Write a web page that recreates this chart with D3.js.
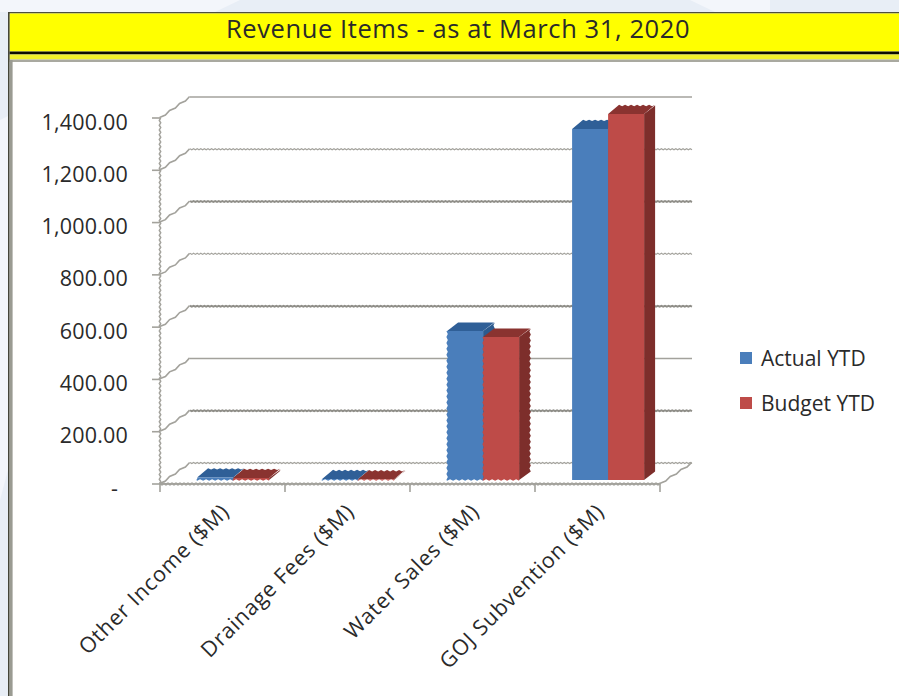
<!DOCTYPE html>
<html>
<head>
<meta charset="utf-8">
<script src="https://cdn.jsdelivr.net/npm/d3@7/dist/d3.min.js"></script>
<style>
  html, body { margin: 0; padding: 0; background: #fff; }
  svg { display: block; }
  text { font-family: "Open Sans", "Noto Sans", sans-serif; fill: #2a2a2a; }
</style>
</head>
<body>
<svg id="chart" width="899" height="696"></svg>
<script>
// Revenue items, year to date, in millions
const categories = ["Other Income ($M)", "Drainage Fees ($M)", "Water Sales ($M)", "GOJ Subvention ($M)"];
const seriesNames = ["Actual YTD", "Budget YTD"];
const actualYTD = [10, 4, 570, 1343];
const budgetYTD = [8, 3, 547, 1400];
const yTicks = [0, 200, 400, 600, 800, 1000, 1200, 1400];
const solidGridlines = [1400, 400];
const heavyGridlines = [1000, 600, 200];
const titleText = "Revenue Items - as at March 31, 2020";

const faceColors = {
  "Actual YTD": { front: "#4a7ebb", top: "#2f5f97", side: "#2c5a8e" },
  "Budget YTD": { front: "#be4b48", top: "#8a3330", side: "#7d2e2b" }
};

const svg = d3.select("#chart");

// Page backdrop and the framed panel
svg.append("rect").attr("width", 899).attr("height", 696).attr("fill", "#e8eef6");
[[[0, 0], [240, 0], [215, 12], [0, 12]],
 [[690, 0], [770, 0], [770, 12], [715, 12]],
 [[0, 120], [8, 116], [8, 470], [0, 500]]].forEach(p => {
  svg.append("polygon").attr("points", p.join(" ")).attr("fill", "#f3f6fb");
});
svg.append("rect").attr("x", 8).attr("y", 12).attr("width", 891).attr("height", 684).attr("fill", "#fff");
svg.append("rect").attr("x", 8).attr("y", 12).attr("width", 891).attr("height", 1.5).attr("fill", "#4d4f3d");
svg.append("rect").attr("x", 9.5).attr("y", 13.5).attr("width", 890).attr("height", 38).attr("fill", "#ffff00");
svg.append("rect").attr("x", 9.5).attr("y", 51.5).attr("width", 890).attr("height", 3).attr("fill", "#0b0b00");
svg.append("rect").attr("x", 9.5).attr("y", 54.5).attr("width", 890).attr("height", 5).attr("fill", "#f0f02a");
svg.append("rect").attr("x", 9.5).attr("y", 59.5).attr("width", 890).attr("height", 2.5).attr("fill", "#a9a9a0");
svg.append("rect").attr("x", 8).attr("y", 12).attr("width", 1.6).attr("height", 684).attr("fill", "#45463a");
svg.append("rect").attr("x", 9.6).attr("y", 60).attr("width", 3).attr("height", 636).attr("fill", "#9a9b92");
svg.append("text").attr("x", 458).attr("y", 37.5).attr("text-anchor", "middle")
  .attr("font-size", 25.5).attr("letter-spacing", 0.6).text(titleText);

// Scales for the front plane of the chart box
const x0 = d3.scaleBand().domain(categories).range([160, 660]);
const x1 = d3.scaleBand().domain(seriesNames).range([0, x0.bandwidth()])
  .paddingInner(0).paddingOuter(0.736).align(0.7);
const y = d3.scaleLinear().domain([0, 1400]).range([484, 118]);

// Depth of the box and of the bars
const wall = { dx: 30, dy: -21 };
const bar = { dx: 11, dy: -8.5, lift: 4 };

// Saw-tooth run between two points, as the low-resolution edges are drawn
function teeth(a, b, period, amp) {
  const len = Math.hypot(b[0] - a[0], b[1] - a[1]);
  const n = Math.max(1, Math.round(len / period));
  const nx = -(b[1] - a[1]) / len, ny = (b[0] - a[0]) / len;
  return d3.range(n + 1).map(i => {
    const t = i / n, s = (i % 2 ? amp : -amp);
    return [a[0] + (b[0] - a[0]) * t + nx * s, a[1] + (b[1] - a[1]) * t + ny * s];
  });
}
const line = d3.line();
const grid = svg.append("g").attr("fill", "none").attr("stroke", "#a3a29c");

// Back wall gridlines and the side wall diagonals
yTicks.forEach(v => {
  const yy = y(v);
  const left = [x0.range()[0] + wall.dx, yy + wall.dy];
  const right = [x0.range()[1] + wall.dx + 2, yy + wall.dy];
  const solid = solidGridlines.includes(v);
  const heavy = heavyGridlines.includes(v);
  grid.append("path")
    .attr("d", line(solid ? [left, right] : teeth(left, right, 1.8, heavy ? 0.4 : 0.55)))
    .attr("stroke-width", heavy ? 2 : solid ? 1.6 : 1.2)
    .attr("stroke", heavy ? "#8f8e88" : null);
  grid.append("path")
    .attr("d", line(teeth([x0.range()[0], yy], left, 6, 0.7)))
    .attr("stroke-width", 1.6);
  grid.append("line").attr("x1", 152).attr("x2", 160).attr("y1", yy).attr("y2", yy)
    .attr("stroke-width", 1.6);
});

// Right edge of the floor, front axis line and vertical axis
grid.append("path").attr("stroke-width", 1.6)
  .attr("d", line(teeth([x0.range()[1], y(0)], [x0.range()[1] + wall.dx + 2, y(0) + wall.dy], 6, 0.7)));
grid.append("path").attr("stroke-width", 2.2)
  .attr("d", line(teeth([x0.range()[0], y(0)], [x0.range()[1], y(0)], 2, 0.5)));
grid.append("path").attr("stroke-width", 1.5)
  .attr("d", line(teeth([x0.range()[0], y(1400)], [x0.range()[0], y(0)], 2.4, 0.7)));
categories.map(c => x0(c)).concat(x0.range()[1]).forEach(px => {
  grid.append("line").attr("x1", px).attr("x2", px).attr("y1", y(0)).attr("y2", y(0) + 8)
    .attr("stroke-width", 1.6);
});

// Value axis labels
const fmt = v => v === 0 ? "-" : d3.format(",.2f")(v);
svg.append("g").selectAll("text").data(yTicks).join("text")
  .attr("x", v => v === 0 ? 118 : 128)
  .attr("y", v => y(v) + 11.5)
  .attr("text-anchor", "end")
  .attr("font-size", 21.5)
  .attr("letter-spacing", 0.2)
  .text(fmt);

// Category labels, slanted up to the band centres
svg.append("g").selectAll("text").data(categories).join("text")
  .attr("text-anchor", "end")
  .attr("font-size", 21.5)
  .attr("letter-spacing", 0.8)
  .attr("transform", c => `translate(${x0(c) + x0.bandwidth() / 2 + 8},${513}) rotate(-45)`)
  .text(c => c);

// Three-faced bars: side and top behind the front of each series
const jagged = new Set(["Water Sales ($M)", "Other Income ($M)", "Drainage Fees ($M)"]);
const jaggedTops = new Set(["Other Income ($M)", "Drainage Fees ($M)", "GOJ Subvention ($M)"]);
function drawBar(g, cat, name, value) {
  const c = faceColors[name];
  const xl = x0(cat) + x1(name), xr = xl + x1.bandwidth();
  const yb = y(0) - bar.lift, yt = y(value) - bar.lift;
  const rough = jagged.has(cat);
  const { dx, dy } = bar;

  const sideEdge = rough ? teeth([xr + dx, yt + dy], [xr + dx, yb + dy], 3, 0.7) : [[xr + dx, yt + dy], [xr + dx, yb + dy]];
  g.append("path").attr("fill", c.side).attr("d", line([[xr, yt], ...sideEdge, [xr, yb]]) + "Z");
  const backEdge = jaggedTops.has(cat)
    ? teeth([xl + dx, yt + dy], [xr + dx, yt + dy], 3, 0.7)
    : [[xl + dx, yt + dy], [xr + dx, yt + dy]];
  g.append("path").attr("fill", c.top)
    .attr("d", line([[xl, yt], ...backEdge, [xr, yt]]) + "Z");

  const leftEdge = rough ? teeth([xl, yb], [xl, yt], 3, 0.7) : [[xl, yb], [xl, yt]];
  const bottomEdge = rough ? teeth([xr, yb], [xl, yb], 3, 0.7) : [[xr, yb], [xl, yb]];
  g.append("path").attr("fill", c.front)
    .attr("d", line([...leftEdge, [xr, yt], ...bottomEdge]) + "Z");
}
const bars = svg.append("g");
categories.forEach((cat, i) => {
  drawBar(bars, cat, seriesNames[0], actualYTD[i]);
  drawBar(bars, cat, seriesNames[1], budgetYTD[i]);
});

// Legend
const legend = svg.append("g").selectAll("g").data(seriesNames).join("g")
  .attr("transform", (d, i) => `translate(740,${352 + i * 45})`);
legend.append("rect").attr("width", 12).attr("height", 12).attr("fill", d => faceColors[d].front);
legend.append("text").attr("x", 21).attr("y", 13.5).attr("font-size", 21).text(d => d);
</script>
</body>
</html>
